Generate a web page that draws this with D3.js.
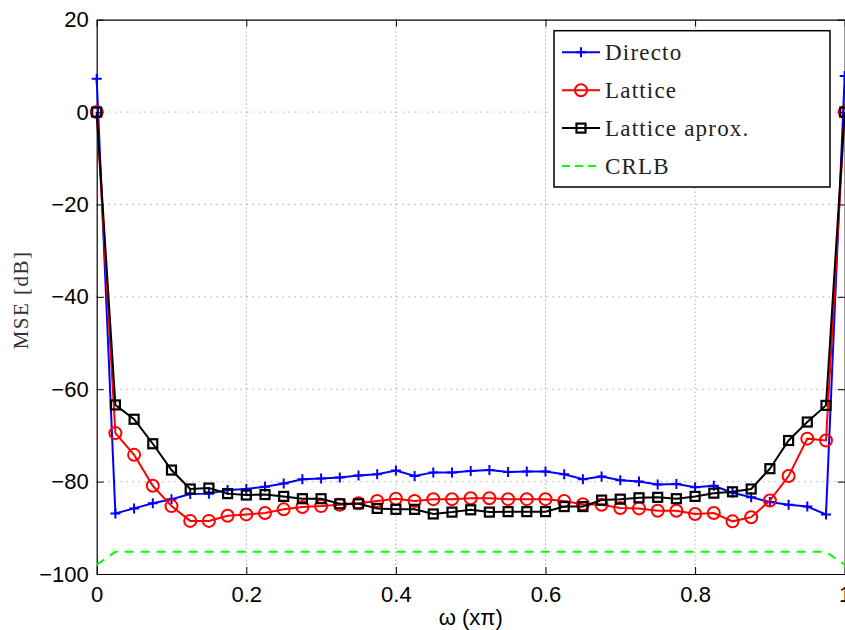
<!DOCTYPE html>
<html>
<head>
<meta charset="utf-8">
<script src="https://cdn.jsdelivr.net/npm/d3@7"></script>
<style>
  body { margin: 0; background: #fff; overflow: hidden; }
  svg { display: block; }
</style>
</head>
<body>
<div id="chart"></div>
<script>

// omega (x pi), one point every 0.025
let omega = [0, 0.025, 0.05, 0.075, 0.1, 0.125, 0.15, 0.175, 0.2, 0.225,
  0.25, 0.275, 0.3, 0.325, 0.35, 0.375, 0.4, 0.425, 0.45, 0.475,
  0.5, 0.525, 0.55, 0.575, 0.6, 0.625, 0.65, 0.675, 0.7, 0.725,
  0.75, 0.775, 0.8, 0.825, 0.85, 0.875, 0.9, 0.925, 0.95, 0.975, 1]

let directo = [7.2, -86.9, -85.8, -84.7, -83.8, -82.7, -82.6, -81.8, -81.6, -81.1,
  -80.4, -79.5, -79.3, -79.1, -78.7, -78.4, -77.6, -78.8, -78.0, -78.0,
  -77.7, -77.5, -77.9, -77.8, -77.8, -78.4, -79.5, -78.9, -79.7, -80.0,
  -80.6, -80.5, -81.2, -80.9, -82.4, -83.4, -84.4, -85.0, -85.4, -87.1, 7.8]

let lattice = [0, -69.5, -74.2, -80.9, -85.3, -88.5, -88.5, -87.4, -87.1, -86.8,
  -86.0, -85.5, -85.3, -85.0, -84.7, -84.2, -83.7, -84.2, -83.8, -83.8,
  -83.6, -83.6, -83.8, -83.8, -83.8, -84.2, -84.9, -85.0, -85.7, -85.8,
  -86.3, -86.3, -87.0, -86.8, -88.6, -87.7, -84.1, -78.8, -70.7, -71.1, 0]

let latticeAprox = [0, -63.4, -66.5, -71.8, -77.5, -81.6, -81.4, -82.6, -82.9, -82.8,
  -83.2, -83.7, -83.7, -84.8, -84.8, -85.8, -86.0, -86.0, -87.0, -86.6,
  -86.1, -86.6, -86.5, -86.5, -86.5, -85.4, -85.4, -84.0, -83.8, -83.5,
  -83.4, -83.7, -83.2, -82.5, -82.2, -81.6, -77.2, -71.1, -67.1, -63.5, 0]

let crlb = [-98, -95.2, -95.2, -95.2, -95.2, -95.2, -95.2, -95.2, -95.2, -95.2,
  -95.2, -95.2, -95.2, -95.2, -95.2, -95.2, -95.2, -95.2, -95.2, -95.2,
  -95.2, -95.2, -95.2, -95.2, -95.2, -95.2, -95.2, -95.2, -95.2, -95.2,
  -95.2, -95.2, -95.2, -95.2, -95.2, -95.2, -95.2, -95.2, -95.2, -95.2, -98]

let xTicks = [0, 0.2, 0.4, 0.6, 0.8, 1]
let yTicks = [-100, -80, -60, -40, -20, 0, 20]

let seriesNames = ["Directo", "Lattice", "Lattice aprox.", "CRLB"]

let width = 845;
let height = 630;
let mLeft = 96.7, mTop = 19.7, mRight = 844.7, mBottom = 574;

let x = d3.scaleLinear().domain([0, 1]).range([mLeft, mRight])
let y = d3.scaleLinear().domain([-100, 20]).range([mBottom, mTop])

let svg = d3.select("#chart").append("svg")
  .attr("width", width)
  .attr("height", height)

// dotted grid
svg.selectAll(".vgrid")
  .data(xTicks.filter(function(d){ return d > 0 && d < 1 }))
  .join("line")
  .attr("x1", function(d){ return x(d) }).attr("x2", function(d){ return x(d) })
  .attr("y1", mTop).attr("y2", mBottom)
  .style("stroke", "#888").style("stroke-width", 1)
  .style("stroke-dasharray", "1,3")

svg.selectAll(".hgrid")
  .data(yTicks.filter(function(d){ return d > -100 && d < 20 }))
  .join("line")
  .attr("x1", mLeft).attr("x2", mRight)
  .attr("y1", function(d){ return y(d) }).attr("y2", function(d){ return y(d) })
  .style("stroke", "#888").style("stroke-width", 1)
  .style("stroke-dasharray", "1,5")

// axes, ticks pointing inward
let xAxis = svg.append("g")
  .attr("transform", `translate(0,${mBottom})`)
  .call(d3.axisBottom(x).tickValues(xTicks).tickSizeInner(-7).tickSizeOuter(0).tickPadding(12)
    .tickFormat(function(d){ return d3.format("")(d) }))
let xAxisTop = svg.append("g")
  .attr("transform", `translate(0,${mTop})`)
  .call(d3.axisTop(x).tickValues(xTicks).tickSizeInner(-7).tickSizeOuter(0).tickFormat(""))
let yAxis = svg.append("g")
  .attr("transform", `translate(${mLeft},0)`)
  .call(d3.axisLeft(y).tickValues(yTicks).tickSizeInner(-7).tickSizeOuter(0).tickPadding(8)
    .tickFormat(function(d){ return d < 0 ? "\u2212" + Math.abs(d) : d }))
let yAxisRight = svg.append("g")
  .attr("transform", `translate(${mRight},0)`)
  .call(d3.axisRight(y).tickValues(yTicks).tickSizeInner(-7).tickSizeOuter(0).tickFormat(""))

svg.selectAll(".domain").style("stroke", "#000").style("stroke-width", 1.2)
svg.selectAll(".tick line").style("stroke", "#000")
svg.selectAll(".tick text")
  .style("font-family", "'Liberation Sans', Arial, sans-serif")
  .style("font-size", "22px")
  .style("fill", "#000")

// series
let series = [
  { name: seriesNames[0], values: directo, color: "#0000ff", marker: "plus" },
  { name: seriesNames[1], values: lattice, color: "#ff0000", marker: "circle" },
  { name: seriesNames[2], values: latticeAprox, color: "#000000", marker: "square" },
  { name: seriesNames[3], values: crlb, color: "#00ff00", marker: "none", dash: "9,7" }
]

let line = d3.line()
  .x(function(d){ return x(d[0]) })
  .y(function(d){ return y(d[1]) })

function drawMarker(g, type, color) {
  if (type == "plus") {
    g.append("path").attr("d", "M-5,0H5M0,-5V5")
      .style("stroke", color).style("stroke-width", 2).style("fill", "none")
  } else if (type == "circle") {
    g.append("circle").attr("r", 6)
      .style("stroke", color).style("stroke-width", 2).style("fill", "none")
  } else if (type == "square") {
    g.append("rect").attr("x", -4.5).attr("y", -4.5).attr("width", 9).attr("height", 9)
      .style("stroke", color).style("stroke-width", 2.2).style("fill", "none")
  }
}

series.forEach(function(s){
  let pts = omega.map(function(o, i){ return [o, s.values[i]] })
  svg.append("path")
    .datum(pts)
    .attr("d", line)
    .style("fill", "none")
    .style("stroke", s.color)
    .style("stroke-width", 2)
    .style("stroke-dasharray", s.dash || null)

  if (s.marker != "none") {
    svg.selectAll(null)
      .data(pts)
      .join("g")
      .attr("transform", function(d){ return `translate(${x(d[0])},${y(d[1])})` })
      .each(function(){ drawMarker(d3.select(this), s.marker, s.color) })
  }
})

// labels
svg.append("text")
  .attr("x", (mLeft + mRight) / 2)
  .attr("y", 625)
  .attr("text-anchor", "middle")
  .style("font-family", "'Liberation Sans', Arial, sans-serif")
  .style("font-size", "22px")
  .text("\u03c9 (x\u03c0)")

svg.append("text")
  .attr("transform", `translate(28,${(mTop + mBottom) / 2 + 3}) rotate(-90)`)
  .attr("text-anchor", "middle")
  .style("font-family", "'Liberation Serif', 'Times New Roman', serif")
  .style("font-size", "21px")
  .style("letter-spacing", "1.5px")
  .style("fill", "#333")
  .text("MSE [dB]")

// legend
let legend = svg.append("g")
legend.append("rect")
  .attr("x", 554).attr("y", 30.7).attr("width", 276).attr("height", 156.3)
  .style("fill", "#fff").style("stroke", "#000").style("stroke-width", 1.5)

let legendY = d3.scalePoint().domain(seriesNames).range([52.3, 166])

series.forEach(function(s){
  let ly = legendY(s.name)
  legend.append("line")
    .attr("x1", 562).attr("x2", 600).attr("y1", ly).attr("y2", ly)
    .style("stroke", s.color).style("stroke-width", 2)
    .style("stroke-dasharray", s.dash ? "8,5" : null)
  if (s.marker != "none") {
    let g = legend.append("g").attr("transform", `translate(581,${ly})`)
    drawMarker(g, s.marker, s.color)
  }
  legend.append("text")
    .attr("x", 605).attr("y", ly + 8)
    .style("font-family", "'Liberation Serif', 'Times New Roman', serif")
    .style("font-size", "23px")
    .style("letter-spacing", "1.2px")
    .style("fill", "#222")
    .text(s.name)
})

</script>
</body>
</html>
